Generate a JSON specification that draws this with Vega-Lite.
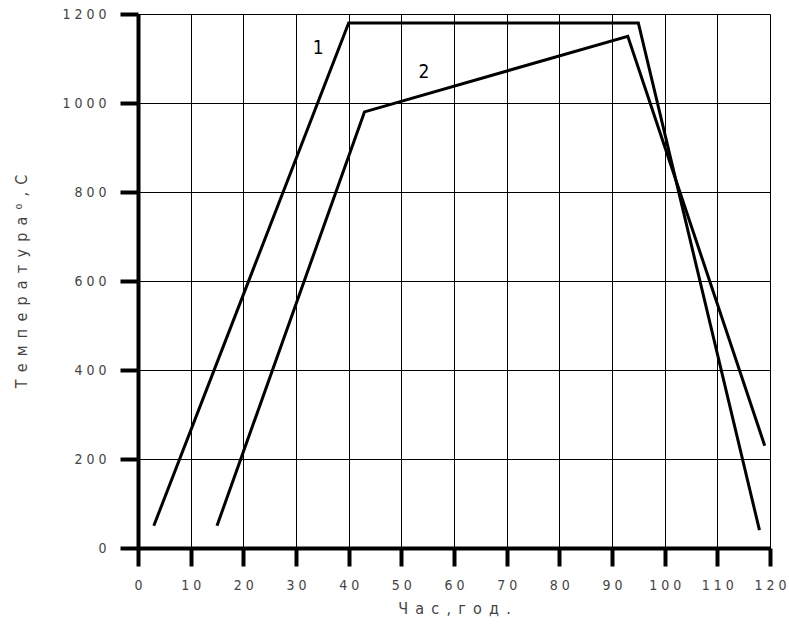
{
  "$schema": "https://vega.github.io/schema/vega-lite/v6.json",
  "autosize": "none",
  "width": 632,
  "height": 534,
  "padding": {"left": 138, "top": 14, "right": 19, "bottom": 85},
  "background": "white",
  "config": {
    "view": {"stroke": null},
    "axis": {
      "domainColor": "black",
      "domainWidth": 4,
      "tickColor": "black",
      "tickWidth": 4,
      "tickSize": 18,
      "gridColor": "black",
      "gridOpacity": 1,
      "gridWidth": 1,
      "labelFont": "DejaVu Sans Condensed",
      "labelFontSize": 14,
      "labelColor": "#444",
      "labelOverlap": false,
      "labelFlush": false,
      "labelBound": false,
      "titleFont": "DejaVu Sans Condensed",
      "titleFontSize": 16,
      "titleFontWeight": "normal",
      "titleColor": "#444"
    }
  },
  "data": {
    "values": [
      {"x": 3, "y": 50, "s": "1"},
      {"x": 40, "y": 1180, "s": "1"},
      {"x": 95, "y": 1180, "s": "1"},
      {"x": 118, "y": 40, "s": "1"},
      {"x": 15, "y": 50, "s": "2"},
      {"x": 43, "y": 980, "s": "2"},
      {"x": 93, "y": 1150, "s": "2"},
      {"x": 119, "y": 230, "s": "2"}
    ]
  },
  "layer": [
    {
      "mark": {"type": "line", "color": "black", "strokeWidth": 3},
      "encoding": {
        "x": {
          "field": "x", "type": "quantitative",
          "scale": {"domain": [0, 120], "nice": false},
          "axis": {
            "values": [0,10,20,30,40,50,60,70,80,90,100,110,120],
            "labelExpr": "join(split(format(datum.value,'d'),''),' ')",
            "labelPadding": 12,
            "title": "Ч\u2002а\u2002с\u2002,\u2002г\u2002о\u2002д\u2002.",
            "titlePadding": 8
          }
        },
        "y": {
          "field": "y", "type": "quantitative",
          "scale": {"domain": [0, 1200], "nice": false},
          "axis": {
            "values": [0,200,400,600,800,1000,1200],
            "labelExpr": "join(split(format(datum.value,'d'),''),' ')",
            "labelPadding": 14,
            "title": "Т\u2002е\u2002м\u2002п\u2002е\u2002р\u2002а\u2002т\u2002у\u2002р\u2002а\u2002⁰\u2002,\u2002С",
            "titlePadding": 32
          }
        },
        "detail": {"field": "s"}
      }
    },
    {
      "data": {"values": [{"x": 34.2, "y": 1123, "t": "1"}, {"x": 54.3, "y": 1070, "t": "2"}]},
      "mark": {"type": "text", "font": "DejaVu Sans Condensed", "fontSize": 19, "color": "black"},
      "encoding": {
        "x": {"field": "x", "type": "quantitative"},
        "y": {"field": "y", "type": "quantitative"},
        "text": {"field": "t"}
      }
    }
  ]
}
